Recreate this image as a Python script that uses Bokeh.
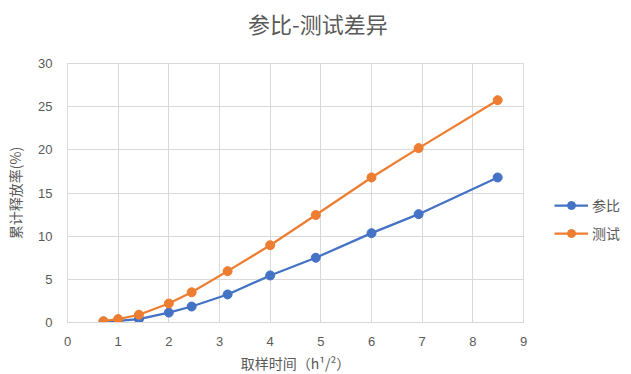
from bokeh.plotting import figure
from bokeh.layouts import column
from bokeh.models import Legend, LegendItem, FixedTicker, Range1d, Div
from bokeh.embed import file_html
from bokeh.resources import INLINE

# data (x = sqrt of sampling time in hours)
x_vals = [0.71, 1.0, 1.41, 2.0, 2.45, 3.16, 4.0, 4.9, 6.0, 6.93, 8.49]
ref_vals = [0.1, 0.2, 0.4, 1.15, 1.85, 3.25, 5.45, 7.5, 10.35, 12.55, 16.8]
test_vals = [0.15, 0.4, 0.9, 2.2, 3.5, 5.95, 8.95, 12.45, 16.8, 20.2, 25.75]
series_names = ["参比", "测试"]
x_ticks = [0, 1, 2, 3, 4, 5, 6, 7, 8, 9]
y_ticks = [0, 5, 10, 15, 20, 25, 30]
title_text = "参比-测试差异"

BLUE = "#4472C4"
ORANGE = "#ED7D31"
GREY = "#595959"
GRID = "#D9D9D9"
CJK = "Noto Sans CJK SC"

TITLE_H = 31
title_div = Div(
    text=('<div style="margin:0 0 0 243px;padding-top:5px;font-size:22px;'
          'line-height:26px;color:%s;font-family:\'%s\';white-space:nowrap">%s</div>'
          % (GREY, CJK, title_text)),
    width=615, height=TITLE_H)

p = figure(frame_width=456, frame_height=259, output_backend="svg", toolbar_location=None,
           x_range=Range1d(0, 9), y_range=Range1d(0, 30), title_location=None,
           min_border_left=67, min_border_right=10, min_border_top=53 - TITLE_H,
           min_border_bottom=50)
p.outline_line_color = GRID

for ax in (p.xaxis[0], p.yaxis[0]):
    ax.axis_line_color = GRID
    ax.major_tick_line_color = None
    ax.minor_tick_line_color = None
    ax.major_label_text_font = "Liberation Sans"
    ax.major_label_text_font_size = "13px"
    ax.major_label_text_color = GREY
    ax.axis_label_text_font = CJK
    ax.axis_label_text_font_size = "14px"
    ax.axis_label_text_font_style = "normal"
    ax.axis_label_text_color = GREY

p.xaxis.ticker = FixedTicker(ticks=x_ticks)
p.yaxis.ticker = FixedTicker(ticks=y_ticks)
p.xaxis.major_label_standoff = 8
p.yaxis.major_label_standoff = 9
p.xaxis.axis_label = "取样时间（h¹/²）"
p.yaxis.axis_label = "累计释放率(%)"
p.xaxis.axis_label_standoff = 4
p.yaxis.axis_label_standoff = 10

p.xgrid.ticker = FixedTicker(ticks=x_ticks)
p.ygrid.ticker = FixedTicker(ticks=y_ticks)
p.grid.grid_line_color = GRID
p.grid.grid_line_width = 1

items = []
for name, vals, col in ((series_names[0], ref_vals, BLUE), (series_names[1], test_vals, ORANGE)):
    l = p.line(x_vals, vals, line_color=col, line_width=2.25)
    s = p.scatter(x_vals, vals, size=9, fill_color=col, line_color=col)
    items.append(LegendItem(label=name, renderers=[l, s]))

legend = Legend(items=items, location=(31, 79), orientation="vertical",
                border_line_color=None, background_fill_alpha=0,
                padding=0, spacing=8, glyph_width=34, glyph_height=20,
                label_height=20, label_standoff=4, margin=0,
                label_text_font=CJK, label_text_font_size="14px",
                label_text_color=GREY)
p.add_layout(legend, "right")

layout = column(title_div, p, spacing=0)
open("out.html", "w").write(file_html(layout, INLINE))
